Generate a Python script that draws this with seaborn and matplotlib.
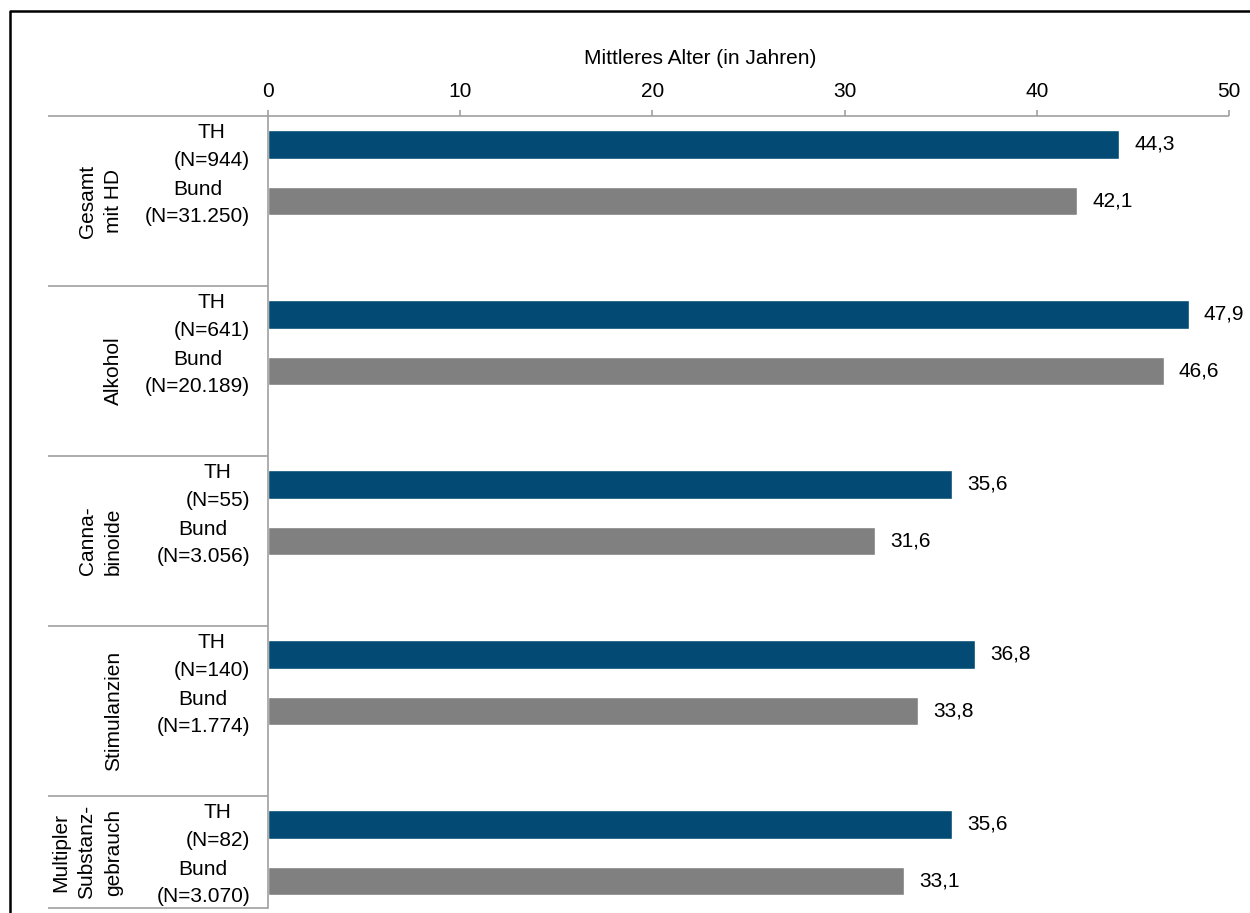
import matplotlib
matplotlib.use("Agg")
import matplotlib.pyplot as plt
from matplotlib.lines import Line2D
import pandas as pd
import seaborn as sns

# --- data -----------------------------------------------------------------
groups = ["Gesamt\nmit HD", "Alkohol", "Canna-\nbinoide", "Stimulanzien",
          "Multipler\nSubstanz-\ngebrauch"]
regions = ["TH", "Bund"]
th_n = ["944", "641", "55", "140", "82"]
bund_n = ["31.250", "20.189", "3.056", "1.774", "3.070"]
th_values = [44.3, 47.9, 35.6, 36.8, 35.6]
bund_values = [42.1, 46.6, 31.6, 33.8, 33.1]
x_ticks = [0, 10, 20, 30, 40, 50]
x_label = "Mittleres Alter (in Jahren)"

colors = {"TH": "#034B74", "Bund": "#808080"}
line_gray = "#A0A0A0"
fs = 15

# three slots per group: TH, Bund, empty gap
rows = []
for g in range(len(groups)):
    rows.append({"pos": 3 * g, "Region": "TH", "Alter": th_values[g],
                 "label": f"TH\n(N={th_n[g]})"})
    rows.append({"pos": 3 * g + 1, "Region": "Bund", "Alter": bund_values[g],
                 "label": f"Bund\n(N={bund_n[g]})"})
df = pd.DataFrame(rows)

# --- figure -----------------------------------------------------------------
sns.set_theme(style="white")
plt.rcParams["font.family"] = ["Liberation Sans", "DejaVu Sans"]

W, H = 1250, 913
fig = plt.figure(figsize=(W / 100, H / 100), dpi=100)
ax_px = (268, 1229)
ax = fig.add_axes([ax_px[0] / W, 1 - 908 / H, (ax_px[1] - ax_px[0]) / W,
                   (908 - 116) / H])

sns.barplot(data=df, x="Alter", y="pos", hue="Region", hue_order=regions,
            palette=colors, orient="h", native_scale=True, dodge=False,
            width=0.51, saturation=1, legend=False, ax=ax)

y_top, y_bottom = -0.5, 13.476
ax.set_xlim(0, 50)
ax.set_ylim(y_bottom, y_top)

# x axis on top
ax.xaxis.tick_top()
ax.xaxis.set_label_position("top")
ax.set_xticks(x_ticks)
ax.set_xticklabels([str(t) for t in x_ticks])
ax.set_xlabel(x_label, fontsize=fs, labelpad=13, color="black")
ax.xaxis.label.set_x((700 - ax_px[0]) / (ax_px[1] - ax_px[0]))
ax.set_ylabel("")
ax.set_yticks([])
ax.tick_params(axis="x", top=True, bottom=False, direction="out", length=4,
               width=1.2, color=line_gray, labelsize=fs, pad=7,
               labelcolor="black")

for side in ["top", "right", "bottom"]:
    ax.spines[side].set_visible(False)
ax.spines["left"].set_color(line_gray)
ax.spines["left"].set_linewidth(1.2)

# separator lines on the label side
trans = ax.get_yaxis_transform()  # x in axes fraction, y in data
span = ax_px[1] - ax_px[0]
x_left = (48 - ax_px[0]) / span
ax.plot([x_left, 1], [y_top, y_top], transform=trans, color=line_gray,
        lw=1.2, clip_on=False, solid_capstyle="butt")
for yb in [2.5, 5.5, 8.5, 11.5, y_bottom]:
    ax.plot([x_left, 0], [yb, yb], transform=trans, color=line_gray,
            lw=1.2, clip_on=False, solid_capstyle="butt")

# inner labels (region + N)
x_inner = (250 - ax_px[0]) / span
for _, r in df.iterrows():
    ax.text(x_inner, r["pos"] + 0.04, r["label"], transform=trans,
            ha="right", va="center", multialignment="center", fontsize=fs,
            linespacing=1.55, color="black")

# group labels, rotated
x_group = (123 - ax_px[0]) / span
for g, name in enumerate(groups):
    top = 3 * g - 0.5
    bottom = min(3 * g + 2.5, y_bottom)
    ax.text(x_group, (top + bottom) / 2, name, transform=trans, rotation=90,
            ha="right", va="center", multialignment="center", fontsize=fs,
            linespacing=1.5, color="black")

# value labels
for _, r in df.iterrows():
    ax.annotate(f"{r['Alter']:.1f}".replace(".", ","),
                xy=(r["Alter"], r["pos"]), xytext=(11, 0),
                textcoords="offset points", ha="left", va="center",
                fontsize=fs, color="black")

# outer frame (top and left edges)
fig.add_artist(Line2D([9.5 / W, 9.5 / W, 1.0], [0.0, 1 - 11.5 / H, 1 - 11.5 / H],
                      transform=fig.transFigure, color="black", lw=1.8))

fig.savefig("out.png", dpi=100, facecolor="white")
